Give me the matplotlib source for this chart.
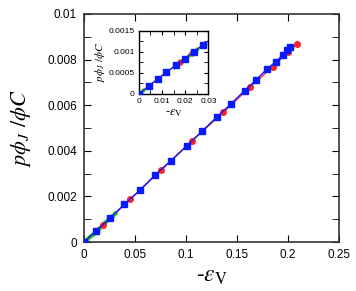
import numpy as np
import matplotlib.pyplot as plt
from matplotlib.ticker import MultipleLocator

plt.rcParams['font.family'] = ['Liberation Sans', 'DejaVu Sans']
plt.rcParams['mathtext.fontset'] = 'stix'

# main panel data
blue_x = [0, 0.0122, 0.0255, 0.0397, 0.055, 0.0696, 0.0853, 0.1007, 0.116, 0.1307,
          0.1444, 0.1575, 0.1686, 0.179, 0.188, 0.1948, 0.1987, 0.202]
blue_y = [0, 0.00050, 0.00104, 0.00166, 0.00228, 0.00294, 0.00357, 0.00422, 0.00487, 0.0055,
          0.00607, 0.00664, 0.0071, 0.00757, 0.0079, 0.0082, 0.00842, 0.00857]
red_x = [0, 0.0183, 0.045, 0.0758, 0.106, 0.1366, 0.1627, 0.185, 0.2003, 0.2085]
red_y = [0, 0.00075, 0.00187, 0.00316, 0.00444, 0.00569, 0.00679, 0.00769, 0.00832, 0.00867]
green_x = [0, 0.003, 0.006, 0.009, 0.012, 0.015, 0.018, 0.021, 0.024, 0.027, 0.030]
green_y = [0, 0.000125, 0.00025, 0.000375, 0.0005, 0.00063, 0.000755, 0.00088, 0.001005, 0.00113, 0.00126]

# inset data
in_blue_x = [0, 0.0044, 0.0081, 0.0119, 0.0159, 0.0198, 0.0237, 0.0277, 0.032]
in_blue_y = [0, 0.00020, 0.000357, 0.000516, 0.000683, 0.00083, 0.00101, 0.00117, 0.00135]
in_red_x = [0, 0.0177, 0.0231, 0.032]
in_red_y = [0, 0.00077, 0.00098, 0.00135]
in_green_x = [0, 0.002, 0.005, 0.0085, 0.0115, 0.015, 0.0185, 0.0215, 0.025, 0.0285, 0.031]
in_green_y = [0, 0.00009, 0.00022, 0.00037, 0.0005, 0.00064, 0.00079, 0.00092, 0.00106, 0.0012, 0.00131]

fig = plt.figure(figsize=(3.56, 2.91), dpi=100)
ax = fig.add_axes([0.236, 0.168, 0.716, 0.784])

ax.plot(green_x, green_y, '-D', color='#22dd22', ms=2.2, lw=1, zorder=2)
ax.plot(red_x, red_y, '-o', color='#ff2020', ms=4, lw=1, zorder=3)
ax.plot(blue_x, blue_y, '-s', color='#0a1aff', ms=4, lw=1, zorder=4)

ax.set_xlim(0, 0.25)
ax.set_ylim(0, 0.01)
ax.yaxis.set_minor_locator(MultipleLocator(0.001))
ax.set_xticks([0, 0.05, 0.1, 0.15, 0.2, 0.25])
ax.set_xticklabels(['0', '0.05', '0.1', '0.15', '0.2', '0.25'])
ax.set_yticks([0, 0.002, 0.004, 0.006, 0.008, 0.01])
ax.set_yticklabels(['0', '0.002', '0.004', '0.006', '0.008', '0.01'])
ax.tick_params(which='both', direction='in', top=True, right=True, labelsize=8.5, pad=5, length=5)
for s in ax.spines.values():
    s.set_linewidth(1.2)
    s.set_color('#333333')
ax.set_xlabel(r'-$\varepsilon_{\mathrm{V}}$', fontsize=17, labelpad=3)
ax.set_ylabel(r'$p\phi_J\ /\phi C$', fontsize=16)
ax.yaxis.set_label_coords(-0.2, 0.5)

# inset
ins = fig.add_axes([0.390, 0.677, 0.1955, 0.2165])
ins.plot(in_green_x, in_green_y, '-D', color='#22dd22', ms=1.8, lw=0.8, zorder=2)
ins.plot(in_red_x, in_red_y, '-o', color='#ff2020', ms=3.5, lw=0.8, zorder=3)
ins.plot(in_blue_x, in_blue_y, '-s', color='#0a1aff', ms=4, lw=0.8, zorder=4)
ins.set_xlim(0, 0.03)
ins.set_ylim(0, 0.0015)
ins.set_xticks([0, 0.01, 0.02, 0.03])
ins.set_xticklabels(['0', '0.01', '0.02', '0.03'])
ins.set_yticks([0, 0.0005, 0.001, 0.0015])
ins.set_yticklabels(['0', '0.0005', '0.001', '0.0015'])
ins.xaxis.set_minor_locator(MultipleLocator(0.005))
ins.yaxis.set_minor_locator(MultipleLocator(0.00025))
ins.tick_params(which='both', direction='in', top=True, right=True, labelsize=6, pad=3, length=3)
for s in ins.spines.values():
    s.set_linewidth(1.0)
ins.set_xlabel(r'-$\varepsilon_{\mathrm{V}}$', fontsize=9, labelpad=1)
ins.set_ylabel(r'$p\phi_J\ /\phi C$', fontsize=8, labelpad=1)

fig.savefig('out.png', dpi=100)
